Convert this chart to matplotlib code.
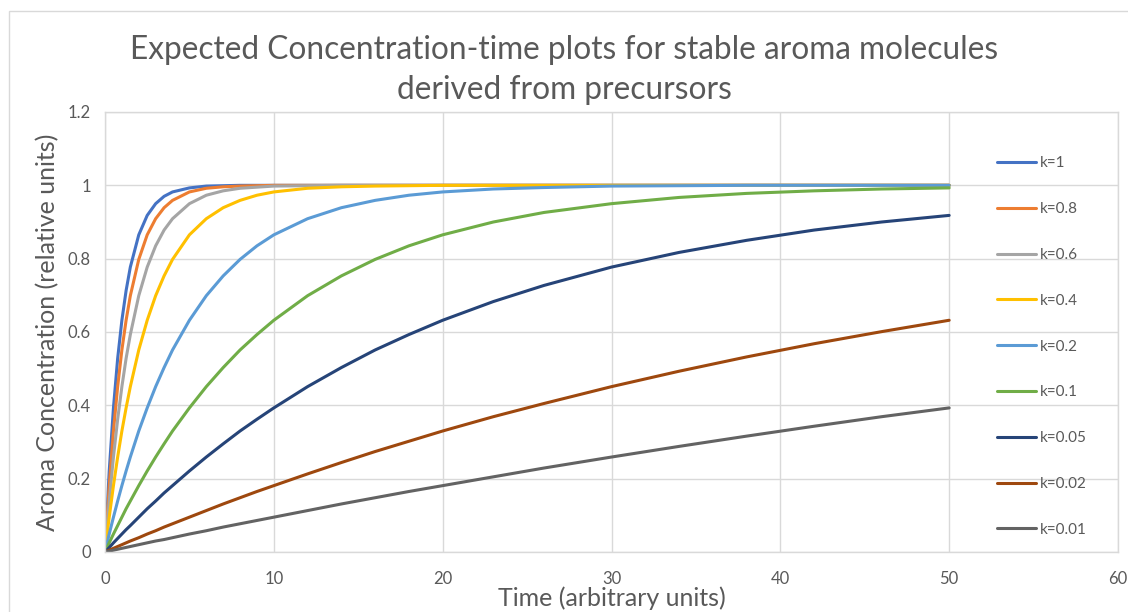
import matplotlib
matplotlib.use("Agg")
import matplotlib.pyplot as plt
from matplotlib.patches import Rectangle

plt.rcParams['font.family'] = ['Lato', 'DejaVu Sans']

# Sampled time points (arbitrary units)
time = [0, 0.25, 0.5, 0.75, 1, 1.25, 1.5, 2, 2.5, 3, 3.5, 4, 5, 6, 7, 8, 9, 10,
        12, 14, 16, 18, 20, 23, 26, 30, 34, 38, 42, 46, 50]

labels = ["k=1", "k=0.8", "k=0.6", "k=0.4", "k=0.2", "k=0.1", "k=0.05", "k=0.02", "k=0.01"]

conc_k1 = [0, 0.221, 0.393, 0.528, 0.632, 0.713, 0.777, 0.865, 0.918, 0.950, 0.970, 0.982,
           0.993, 0.998, 0.999, 1, 1, 1, 1, 1, 1, 1, 1, 1, 1, 1, 1, 1, 1, 1, 1]
conc_k08 = [0, 0.181, 0.330, 0.451, 0.551, 0.632, 0.699, 0.798, 0.865, 0.909, 0.939, 0.959,
            0.982, 0.992, 0.996, 0.998, 0.999, 1, 1, 1, 1, 1, 1, 1, 1, 1, 1, 1, 1, 1, 1]
conc_k06 = [0, 0.139, 0.259, 0.362, 0.451, 0.528, 0.593, 0.699, 0.777, 0.835, 0.878, 0.909,
            0.950, 0.973, 0.985, 0.992, 0.995, 0.998, 0.999, 1, 1, 1, 1, 1, 1, 1, 1, 1, 1, 1, 1]
conc_k04 = [0, 0.095, 0.181, 0.259, 0.330, 0.393, 0.451, 0.551, 0.632, 0.699, 0.753, 0.798,
            0.865, 0.909, 0.939, 0.959, 0.973, 0.982, 0.992, 0.996, 0.998, 0.999, 1,
            1, 1, 1, 1, 1, 1, 1, 1]
conc_k02 = [0, 0.049, 0.095, 0.139, 0.181, 0.221, 0.259, 0.330, 0.393, 0.451, 0.503, 0.551,
            0.632, 0.699, 0.753, 0.798, 0.835, 0.865, 0.909, 0.939, 0.959, 0.973, 0.982,
            0.990, 0.994, 0.998, 0.999, 1, 1, 1, 1]
conc_k01 = [0, 0.025, 0.049, 0.072, 0.095, 0.118, 0.139, 0.181, 0.221, 0.259, 0.295, 0.330,
            0.393, 0.451, 0.503, 0.551, 0.593, 0.632, 0.699, 0.753, 0.798, 0.835, 0.865,
            0.900, 0.926, 0.950, 0.967, 0.978, 0.985, 0.990, 0.993]
conc_k005 = [0, 0.012, 0.025, 0.037, 0.049, 0.061, 0.072, 0.095, 0.118, 0.139, 0.161, 0.181,
             0.221, 0.259, 0.295, 0.330, 0.362, 0.393, 0.451, 0.503, 0.551, 0.593, 0.632,
             0.683, 0.727, 0.777, 0.817, 0.850, 0.878, 0.900, 0.918]
conc_k002 = [0, 0.005, 0.010, 0.015, 0.020, 0.025, 0.030, 0.039, 0.049, 0.058, 0.068, 0.077,
             0.095, 0.113, 0.131, 0.148, 0.165, 0.181, 0.213, 0.244, 0.274, 0.302, 0.330,
             0.369, 0.405, 0.451, 0.493, 0.532, 0.568, 0.601, 0.632]
conc_k001 = [0, 0.0025, 0.005, 0.0075, 0.010, 0.0125, 0.015, 0.020, 0.025, 0.030, 0.034, 0.039,
             0.049, 0.058, 0.068, 0.077, 0.086, 0.095, 0.113, 0.131, 0.148, 0.165, 0.181,
             0.205, 0.229, 0.259, 0.288, 0.316, 0.343, 0.369, 0.393]

series = [conc_k1, conc_k08, conc_k06, conc_k04, conc_k02, conc_k01, conc_k005, conc_k002, conc_k001]
colors = ["#4472C4", "#ED7D31", "#A5A5A5", "#FFC000", "#5B9BD5",
          "#70AD47", "#264478", "#9E480E", "#636363"]

xticks = [0, 10, 20, 30, 40, 50, 60]
yticks = [0, 0.2, 0.4, 0.6, 0.8, 1, 1.2]
ytick_labels = ["0", "0.2", "0.4", "0.6", "0.8", "1", "1.2"]

text_color = "#595959"
grid_color = "#D9D9D9"

fig = plt.figure(figsize=(11.28, 6.12), dpi=100)

# chart frame
fig.patches.append(Rectangle((9 / 1128, -0.05), 1.2, 1 - 11 / 612 + 0.05,
                             transform=fig.transFigure, fill=False,
                             edgecolor=grid_color, linewidth=1.0))

ax = fig.add_axes([105 / 1128, 60 / 612, 1013 / 1128, 440 / 612])

for vals, col, lab in zip(series, colors, labels):
    ax.plot(time, vals, color=col, linewidth=2.2, label=lab,
            solid_joinstyle="round", solid_capstyle="round")

ax.set_xlim(0, 60)
ax.set_ylim(0, 1.2)
ax.set_xticks(xticks)
ax.set_yticks(yticks)
ax.set_yticklabels(ytick_labels)
ax.grid(True, color=grid_color, linewidth=1.0)
ax.set_axisbelow(True)
for sp in ax.spines.values():
    sp.set_color(grid_color)
    sp.set_linewidth(1.0)
ax.tick_params(length=0, colors=text_color, labelsize=12)
ax.tick_params(axis="x", pad=13.5)
ax.tick_params(axis="y", pad=10)

ax.set_xlabel("Time (arbitrary units)", fontsize=18, color=text_color, labelpad=0)
ax.set_ylabel("Aroma Concentration (relative units)", fontsize=18,
              color=text_color, labelpad=6)

fig.text(0.5, 0.885, "Expected Concentration-time plots for stable aroma molecules\nderived from precursors",
         ha="center", va="center", fontsize=22.8, color=text_color, linespacing=1.42)

leg = ax.legend(loc="center left", bbox_to_anchor=(0.875, 0.467), frameon=False,
                fontsize=11, labelcolor=text_color, handlelength=2.55,
                handletextpad=0.2, labelspacing=2.08, borderaxespad=0)

fig.savefig("out.png", dpi=100)
